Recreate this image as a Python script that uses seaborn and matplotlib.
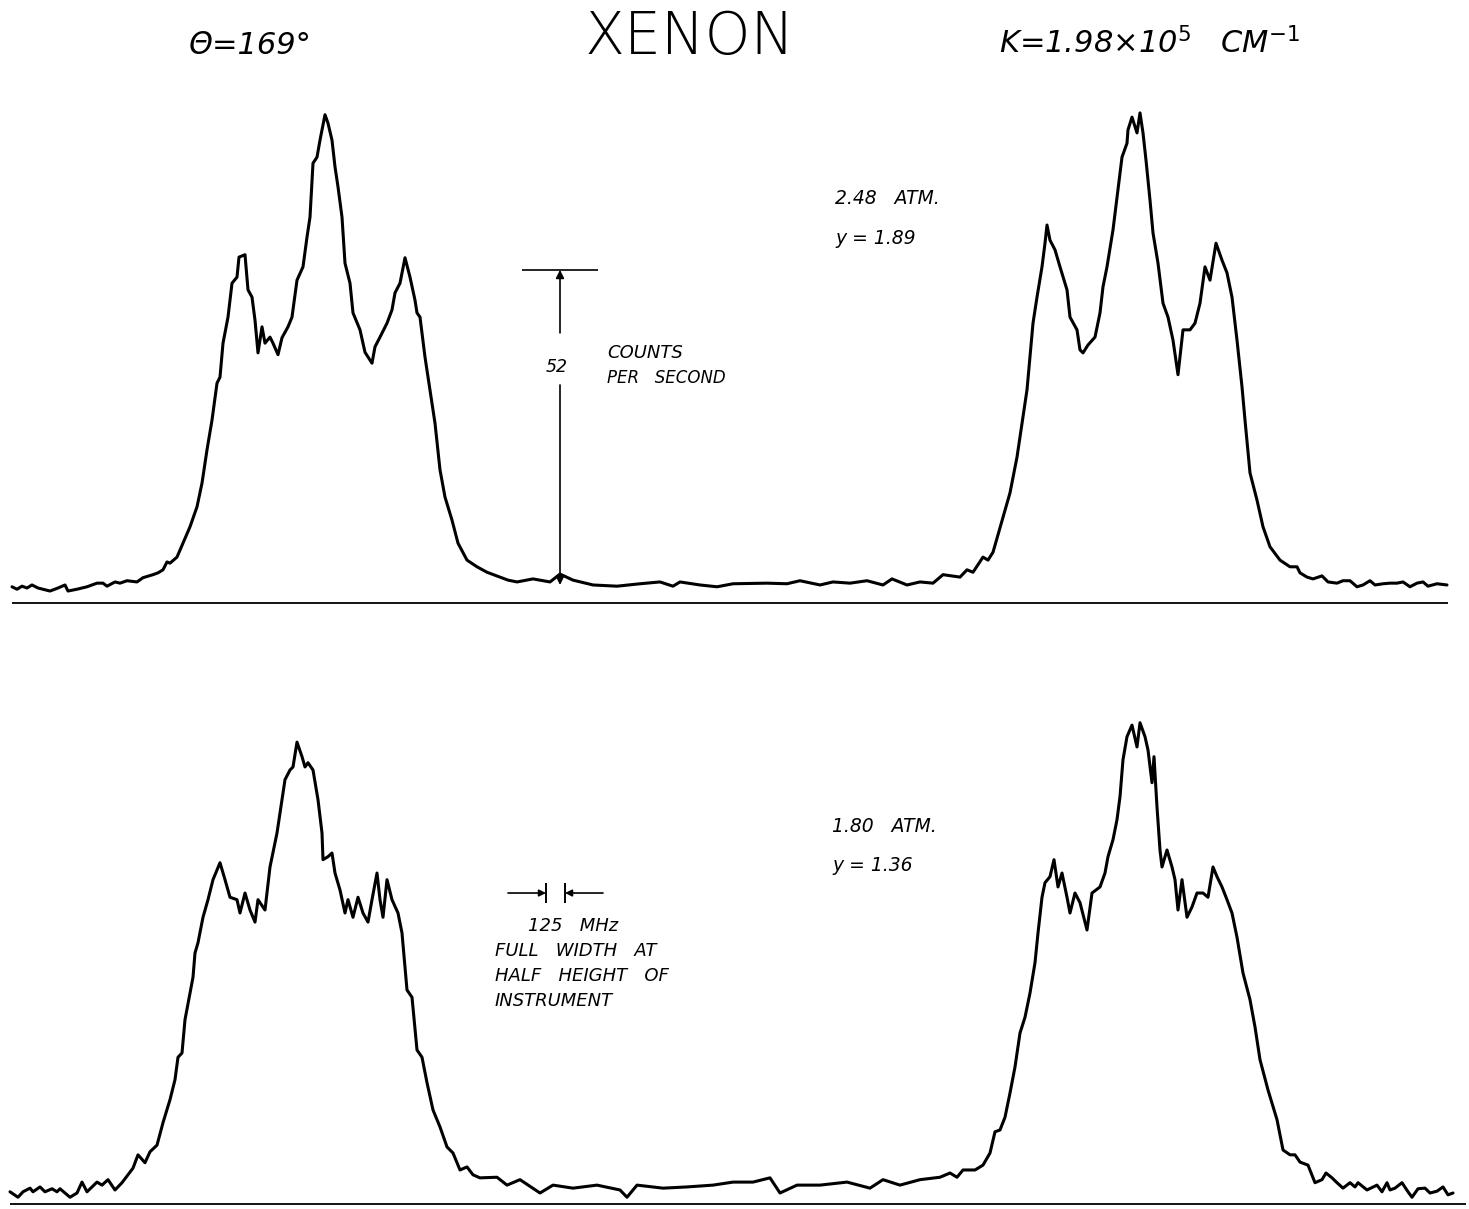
import numpy as np
import pandas as pd
import seaborn as sns
import matplotlib
matplotlib.use("Agg")
import matplotlib.pyplot as plt

# ---------------- data ----------------
# channel axis (recorder position) and signal in counts per second above background
top_channel = [12, 17, 22, 27, 32, 38, 50, 58, 65, 68, 77, 87, 97, 103, 107, 115, 120, 127, 137, 143,
               153, 158, 163, 167, 170, 177, 183, 190, 197, 202, 207, 212, 217, 220, 223, 228, 232, 237, 239, 245,
               248, 252, 255, 258, 262, 265, 270, 273, 278, 282, 288, 292, 297, 303, 307, 310, 313, 317, 320, 325,
               328, 332, 335, 338, 342, 345, 350, 353, 360, 365, 372, 375, 380, 387, 392, 395, 400, 405, 410, 415,
               417, 420, 425, 430, 435, 440, 445, 452, 458, 467, 477, 487, 500, 508, 517, 533, 550, 560, 573, 593,
               617, 640, 660, 673, 680, 700, 717, 733, 767, 787, 800, 820, 833, 850, 867, 883, 892, 907, 920, 933,
               943, 960, 967, 973, 983, 988, 993, 1003, 1010, 1017, 1022, 1027, 1030, 1033, 1037, 1042, 1045, 1047, 1050, 1055,
               1060, 1067, 1070, 1077, 1080, 1083, 1088, 1095, 1100, 1103, 1107, 1113, 1117, 1122, 1127, 1128, 1132, 1137, 1140, 1143,
               1146, 1150, 1153, 1158, 1163, 1168, 1173, 1178, 1183, 1190, 1195, 1200, 1205, 1210, 1216, 1222, 1227, 1232, 1237, 1242,
               1245, 1250, 1257, 1263, 1270, 1280, 1290, 1297, 1300, 1307, 1313, 1322, 1328, 1337, 1343, 1350, 1357, 1363, 1370, 1375,
               1383, 1390, 1397, 1403, 1410, 1417, 1423, 1428, 1437, 1447]
top_counts = [-0.3, -0.7, -0.2, -0.5, 0.0, -0.5, -1.0, -0.5, 0.0, -1.0, -0.7, -0.3, 0.3, 0.3, -0.2, 0.5, 0.3, 0.7, 0.5, 1.2,
              1.7, 2.0, 2.5, 3.8, 3.6, 4.6, 6.9, 9.6, 12.9, 16.8, 22.3, 27.2, 33.3, 34.3, 39.9, 44.2, 49.8, 50.8, 54.1, 54.5,
              48.7, 47.5, 43.7, 38.3, 42.6, 39.9, 40.9, 39.9, 38.0, 40.8, 42.6, 44.2, 50.3, 52.5, 57.4, 60.7, 69.6, 70.6, 73.4, 77.6,
              76.2, 73.4, 69.0, 65.7, 60.7, 53.1, 49.8, 44.9, 42.1, 38.4, 36.6, 39.3, 40.9, 43.2, 45.4, 48.2, 49.8, 54.0, 50.8, 47.0,
              44.9, 44.2, 37.6, 32.2, 26.7, 19.0, 14.5, 10.7, 6.9, 4.1, 3.0, 2.1, 1.3, 0.8, 0.5, 1.0, 0.5, 1.8, 0.8, 0.0,
              -0.2, 0.2, 0.5, -0.2, 0.5, 0.0, -0.3, 0.2, 0.3, 0.2, 0.7, 0.0, 0.5, 0.3, 0.7, 0.0, 1.0, 0.0, 0.5, 0.3,
              1.7, 1.3, 2.5, 2.1, 4.6, 4.1, 5.4, 11.2, 15.2, 21.1, 26.7, 32.2, 37.6, 43.2, 47.5, 52.5, 56.4, 59.4, 56.9, 55.3,
              52.5, 48.7, 44.2, 42.1, 38.8, 38.3, 39.6, 40.9, 44.9, 49.2, 52.5, 58.6, 64.0, 70.6, 72.9, 75.1, 77.2, 74.6, 77.9, 74.6,
              70.1, 63.5, 58.1, 53.1, 46.5, 44.2, 40.4, 34.7, 42.1, 42.1, 43.2, 46.5, 52.5, 50.3, 56.4, 53.6, 51.5, 47.5, 40.4, 32.7,
              27.2, 18.5, 14.0, 9.6, 6.3, 4.1, 3.0, 3.0, 2.0, 1.3, 1.0, 1.5, 0.5, 0.3, 0.7, 0.7, -0.3, 0.0, 0.7, 0.0,
              0.2, 0.3, 0.3, 0.5, -0.3, 0.3, 0.5, -0.2, 0.2, 0.0]

bottom_channel = [10, 18, 23, 30, 33, 40, 45, 52, 57, 60, 70, 77, 82, 87, 97, 102, 108, 115, 122, 128,
                  133, 138, 145, 150, 157, 163, 170, 175, 178, 182, 185, 190, 193, 195, 198, 203, 208, 213, 220, 225,
                  230, 237, 240, 245, 250, 255, 258, 265, 270, 277, 280, 285, 290, 293, 297, 302, 305, 308, 313, 318,
                  322, 323, 328, 332, 335, 340, 345, 348, 353, 358, 363, 368, 372, 377, 380, 383, 387, 392, 398, 402,
                  407, 412, 417, 422, 427, 433, 440, 447, 453, 460, 467, 473, 480, 497, 507, 520, 540, 553, 573, 597,
                  620, 627, 637, 663, 687, 713, 733, 753, 770, 780, 797, 820, 847, 870, 883, 900, 920, 940, 950, 957,
                  963, 975, 983, 990, 995, 1000, 1005, 1010, 1015, 1020, 1025, 1030, 1035, 1038, 1042, 1045, 1050, 1054, 1058, 1062,
                  1067, 1070, 1075, 1080, 1087, 1092, 1100, 1105, 1108, 1113, 1117, 1120, 1123, 1127, 1132, 1137, 1140, 1145, 1148, 1152,
                  1154, 1157, 1160, 1162, 1167, 1172, 1175, 1178, 1182, 1187, 1192, 1197, 1203, 1208, 1213, 1217, 1222, 1227, 1232, 1237,
                  1243, 1250, 1255, 1260, 1268, 1277, 1283, 1290, 1295, 1300, 1308, 1315, 1322, 1326, 1332, 1337, 1343, 1350, 1355, 1358,
                  1367, 1377, 1382, 1387, 1390, 1395, 1402, 1408, 1412, 1418, 1425, 1430, 1437, 1443, 1448, 1453]
bottom_counts = [-0.3, -1.2, -0.3, 0.3, -0.3, 0.5, -0.3, 0.2, -0.3, 0.2, -1.2, -0.5, 1.3, -0.3, 1.3, 0.8, 1.7, 0.0, 1.2, 2.5,
                 3.6, 5.8, 4.5, 6.3, 7.4, 11.1, 14.9, 18.2, 21.9, 22.6, 28.1, 32.5, 35.1, 39.1, 40.8, 45.0, 47.9, 51.2, 54.0, 51.2,
                 48.3, 47.9, 45.7, 49.0, 46.2, 44.2, 47.9, 46.2, 53.3, 58.9, 62.2, 67.7, 69.3, 69.8, 73.9, 71.5, 69.8, 70.5, 69.3, 64.4,
                 58.9, 54.5, 55.0, 55.6, 52.3, 49.5, 45.7, 47.9, 45.0, 48.3, 45.7, 44.2, 47.9, 52.3, 47.9, 45.0, 51.2, 47.9, 45.7, 42.4,
                 33.0, 31.8, 23.1, 21.9, 17.7, 13.2, 10.4, 7.1, 6.1, 3.3, 3.8, 2.5, 2.0, 2.1, 0.8, 1.7, -0.5, 0.8, 0.3, 0.8,
                 0.0, -1.2, 0.8, 0.3, 0.5, 0.8, 1.3, 1.3, 2.0, -0.5, 0.8, 0.8, 1.3, 0.3, 1.7, 0.8, 1.7, 2.1, 2.8, 2.1,
                 3.3, 3.3, 4.1, 6.1, 9.6, 9.9, 12.0, 16.0, 20.3, 25.9, 28.5, 32.5, 37.5, 42.4, 48.3, 50.7, 51.7, 54.5, 50.0, 52.3,
                 48.3, 45.7, 49.0, 47.4, 42.9, 49.0, 50.0, 52.3, 55.0, 57.8, 61.1, 64.9, 71.0, 74.8, 76.7, 73.1, 77.1, 74.8, 72.6, 67.2,
                 71.5, 63.2, 56.1, 53.3, 56.1, 53.3, 51.2, 46.2, 51.2, 45.0, 46.7, 49.0, 49.0, 48.3, 53.3, 51.7, 50.0, 47.9, 45.7, 41.7,
                 35.8, 31.4, 26.9, 21.5, 16.5, 11.6, 6.6, 5.8, 5.8, 4.6, 4.1, 1.2, 1.7, 2.8, 2.0, 1.2, 0.3, 1.2, 0.5, 1.2,
                 0.0, 0.8, -0.3, 1.2, 0.0, 0.3, 1.2, -0.3, -1.2, 0.2, 0.3, -0.5, -0.2, 0.5, -0.8, -0.5]

title_center = "XENON"
title_left = "Θ=169°"
title_right = "K=1.98×10$^{5}$   CM$^{-1}$"
top_labels = ["2.48   ATM.", "y = 1.89"]
bottom_labels = ["1.80   ATM.", "y = 1.36"]
scale_value = "52"
scale_counts = 52
scale_text = ["COUNTS", "PER   SECOND"]
width_text = ["125   MHz", "FULL   WIDTH   AT", "HALF   HEIGHT   OF", "INSTRUMENT"]

# ---------------- figure ----------------
sns.set_theme(style="white")
plt.rcParams["font.family"] = ["DejaVu Sans"]
plt.rcParams["text.color"] = "black"

W, H = 1469, 1209
fig = plt.figure(figsize=(W / 100, H / 100), dpi=100)

ax_top = fig.add_axes([0, (H - 610) / H, 1, 520 / H])
ax_bot = fig.add_axes([0, 0, 1, 519 / H])

df_top = pd.DataFrame({"channel": top_channel, "counts": top_counts})
df_bot = pd.DataFrame({"channel": bottom_channel, "counts": bottom_counts})

sns.lineplot(data=df_top, x="channel", y="counts", ax=ax_top, color="black",
             lw=2.2, estimator=None, sort=False)
sns.lineplot(data=df_bot, x="channel", y="counts", ax=ax_bot, color="black",
             lw=2.2, estimator=None, sort=False)

ax_top.set_xlim(0, W)
ax_top.set_ylim(-4.13, 81.68)
ax_bot.set_xlim(0, W)
ax_bot.set_ylim(-3.14, 82.5)
for ax in (ax_top, ax_bot):
    ax.set_axis_off()

# baselines (chart axes)
ax_top.hlines(-2.97, 12, 1448, color="black", lw=1.3)
ax_bot.hlines(-2.3, 10, 1466, color="black", lw=1.3)

hand = dict(color="black", fontstyle="italic", family=["DejaVu Sans"])

# titles
fig.text(250 / W, 1 - 45 / H, title_left, ha="center", va="center", fontsize=22,
         fontweight="light", style="italic", color="black")
fig.text(690 / W, 1 - 38 / H, title_center, ha="center", va="center", fontsize=42,
         fontweight="ultralight", color="black")
fig.text(1150 / W, 1 - 43 / H, title_right, ha="center", va="center", fontsize=22,
         fontweight="light", style="italic", color="black")

# scale bar in the top panel
ax_top.hlines(scale_counts, 522, 598, color="black", lw=1.2)
ax_top.annotate("", xy=(560, scale_counts), xytext=(560, 41.6),
                arrowprops=dict(arrowstyle="-|>", color="black", lw=1.2,
                                mutation_scale=12, shrinkA=0, shrinkB=0))
ax_top.annotate("", xy=(560, 0), xytext=(560, 33.0),
                arrowprops=dict(arrowstyle="-|>", color="black", lw=1.2,
                                mutation_scale=12, shrinkA=0, shrinkB=0))
ax_top.text(557, 36.0, scale_value, ha="center", va="center", fontsize=12.5, **hand)
ax_top.text(607, 38.3, scale_text[0], ha="left", va="center", fontsize=13, **hand)
ax_top.text(607, 34.2, scale_text[1], ha="left", va="center", fontsize=12, **hand)

# pressure labels
ax_top.text(835, 63.8, top_labels[0], ha="left", va="center", fontsize=13.5, **hand)
ax_top.text(835, 57.1, top_labels[1], ha="left", va="center", fontsize=13.5, **hand)
ax_bot.text(832, 59.9, bottom_labels[0], ha="left", va="center", fontsize=13.5, **hand)
ax_bot.text(832, 53.6, bottom_labels[1], ha="left", va="center", fontsize=13.5, **hand)

# instrument width marker in the bottom panel
ax_bot.vlines([546, 565], 47.4, 50.7, color="black", lw=1.4)
ax_bot.annotate("", xy=(546, 49.0), xytext=(508, 49.0),
                arrowprops=dict(arrowstyle="-|>", color="black", lw=1.2,
                                mutation_scale=10, shrinkA=0, shrinkB=0))
ax_bot.annotate("", xy=(565, 49.0), xytext=(603, 49.0),
                arrowprops=dict(arrowstyle="-|>", color="black", lw=1.2,
                                mutation_scale=10, shrinkA=0, shrinkB=0))
ax_bot.text(528, 43.6, width_text[0], ha="left", va="center", fontsize=13, **hand)
for i, line in enumerate(width_text[1:]):
    ax_bot.text(495, 39.4 - 4.15 * i, line, ha="left", va="center", fontsize=13, **hand)

fig.savefig("out.png", dpi=100, facecolor="white")
